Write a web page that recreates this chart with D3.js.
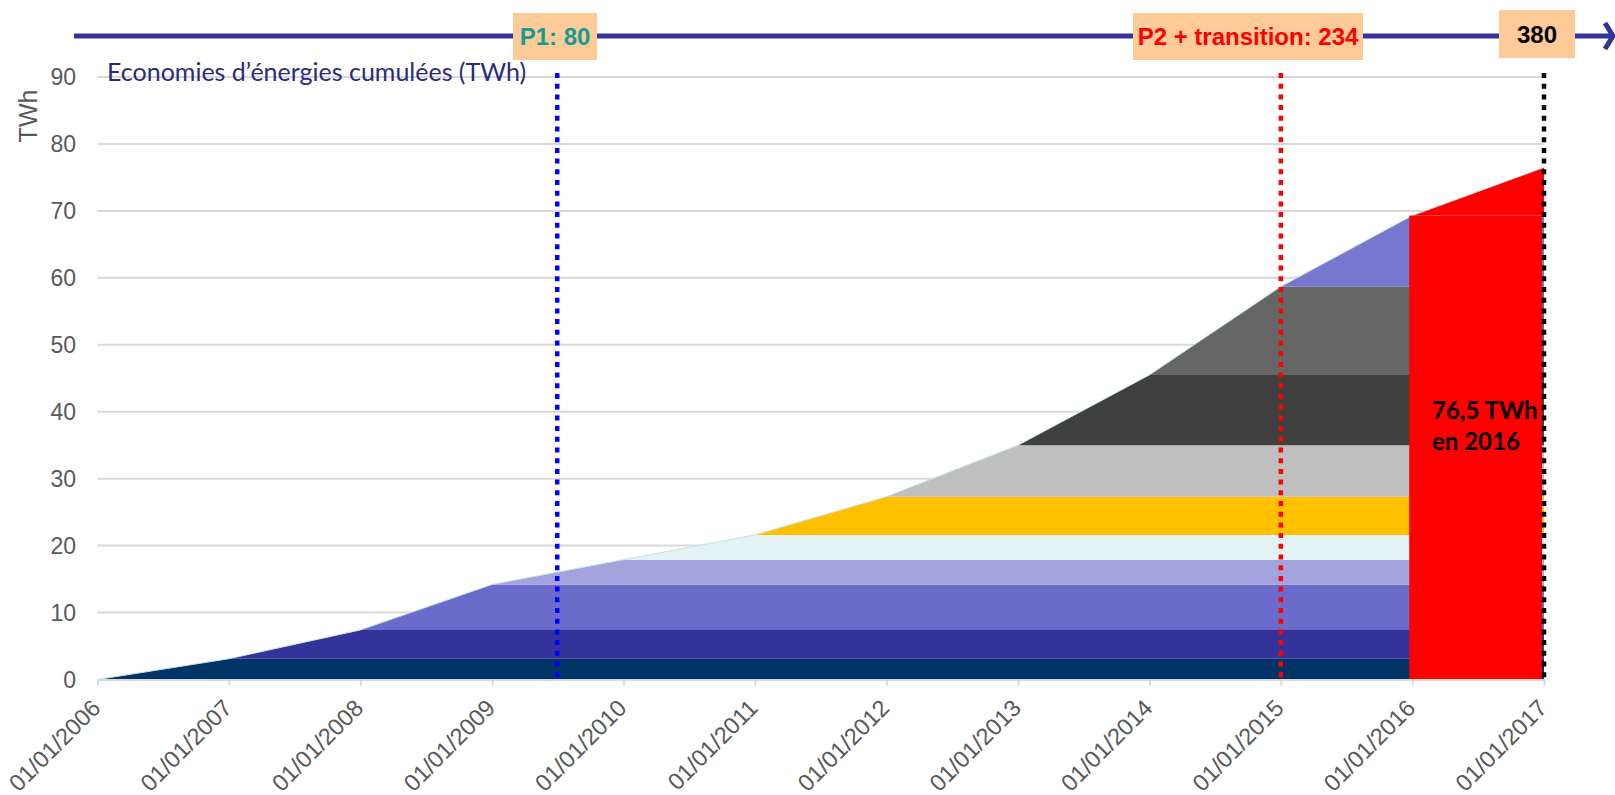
<!DOCTYPE html>
<html>
<head>
<meta charset="utf-8">
<script src="https://cdn.jsdelivr.net/npm/d3@7"></script>
<style>
  body { margin: 0; background: #fff; }
  svg { display: block; }
</style>
</head>
<body>
<div id="chart"></div>
<script>
// dates on the x axis
const dates = ["01/01/2006", "01/01/2007", "01/01/2008", "01/01/2009", "01/01/2010", "01/01/2011",
               "01/01/2012", "01/01/2013", "01/01/2014", "01/01/2015", "01/01/2016", "01/01/2017"];

// savings of each yearly vintage (TWh), one value per date
const v2006 = [0, 3.1, 3.1, 3.1, 3.1, 3.1, 3.1, 3.1, 3.1, 3.1, 3.1, 3.1];
const v2007 = [0, 0, 4.3, 4.3, 4.3, 4.3, 4.3, 4.3, 4.3, 4.3, 4.3, 4.3];
const v2008 = [0, 0, 0, 6.8, 6.8, 6.8, 6.8, 6.8, 6.8, 6.8, 6.8, 6.8];
const v2009 = [0, 0, 0, 0, 3.7, 3.7, 3.7, 3.7, 3.7, 3.7, 3.7, 3.7];
const v2010 = [0, 0, 0, 0, 0, 3.7, 3.7, 3.7, 3.7, 3.7, 3.7, 3.7];
const v2011 = [0, 0, 0, 0, 0, 0, 5.7, 5.7, 5.7, 5.7, 5.7, 5.7];
const v2012 = [0, 0, 0, 0, 0, 0, 0, 7.7, 7.7, 7.7, 7.7, 7.7];
const v2013 = [0, 0, 0, 0, 0, 0, 0, 0, 10.5, 10.5, 10.5, 10.5];
const v2014 = [0, 0, 0, 0, 0, 0, 0, 0, 0, 13.2, 13.2, 13.2];
const v2015 = [0, 0, 0, 0, 0, 0, 0, 0, 0, 0, 10.6, 10.6];
const v2016 = [0, 0, 0, 0, 0, 0, 0, 0, 0, 0, 0, 7.2];

const vintages = [v2006, v2007, v2008, v2009, v2010, v2011, v2012, v2013, v2014, v2015, v2016];

const yTicks = [0, 10, 20, 30, 40, 50, 60, 70, 80, 90];

// periods of the scheme (end dates and cumulated targets)
const periodDates = ["01/07/2009", "01/01/2015", "01/01/2017"];
const periodLabels = ["P1: 80", "P2 + transition: 234", "380"];

const title = "Economies d\u2019énergies cumulées (TWh)";
const totalLabel = ["76,5 TWh", "en 2016"];

const colors = ["#003366", "#333399", "#6b6bcc", "#a3a3dd", "#e3f3f3", "#ffc000",
                "#bfbfbf", "#404040", "#666666", "#7777d0", "#ff0000"];

const W = 1615, H = 795;
const parse = d3.timeParse("%d/%m/%Y");

const svg = d3.select("#chart")
  .append("svg")
    .attr("width", W)
    .attr("height", H);

const x = d3.scaleTime()
  .domain([parse(dates[0]), parse(dates[dates.length - 1])])
  .range([97.5, 1544]);

const y = d3.scaleLinear()
  .domain([0, 90])
  .range([679.5, 77]);

// gridlines
svg.append("g")
  .selectAll("line")
  .data(yTicks.filter(d => d > 0))
  .join("line")
    .attr("x1", x.range()[0])
    .attr("x2", x.range()[1])
    .attr("y1", d => y(d))
    .attr("y2", d => y(d))
    .attr("stroke", "#d9d9d9")
    .attr("stroke-width", 2);

// stacked areas
const table = dates.map((d, i) => {
  const row = {date: parse(d)};
  vintages.forEach((v, k) => row["s" + k] = v[i]);
  return row;
});
const keys = vintages.map((v, k) => "s" + k);
const series = d3.stack().keys(keys)(table);

const area = d3.area()
  .x(d => x(d.data.date))
  .y0(d => y(d[0]))
  .y1(d => y(d[1]));

svg.append("g")
  .selectAll("path")
  .data(series)
  .join("path")
    .attr("fill", (d, i) => colors[i])
    .attr("d", area);

// thin light edge along the top of the stack
const topLayer = series[series.length - 1];
svg.append("path")
  .datum(topLayer)
  .attr("fill", "none")
  .attr("stroke", "#c6e4e4")
  .attr("stroke-width", 1)
  .attr("d", d3.line().x(d => x(d.data.date)).y(d => y(d[1])));

// red block for the last year
const i16 = dates.length - 2;
svg.append("rect")
  .attr("x", x(table[i16].date) - 3)
  .attr("y", y(topLayer[i16][1]))
  .attr("width", x(table[i16 + 1].date) - x(table[i16].date) + 1)
  .attr("height", y(0) - y(topLayer[i16][1]))
  .attr("fill", "#ff0000");

svg.append("text")
  .attr("x", 1432)
  .attr("y", 419)
  .style("font-family", "Lato, 'Noto Sans', sans-serif")
  .style("font-weight", "bold")
  .style("font-size", "24px")
  .attr("fill", "#000")
  .selectAll("tspan")
  .data(totalLabel)
  .join("tspan")
    .attr("x", 1432)
    .attr("dy", (d, i) => i === 0 ? 0 : 31)
    .text(d => d);

// x axis
const xAxis = d3.axisBottom(x)
  .tickValues(dates.map(parse))
  .tickFormat(d3.timeFormat("%d/%m/%Y"))
  .tickSize(6)
  .tickSizeOuter(0);

const gx = svg.append("g")
  .attr("transform", `translate(0, ${y(0)})`)
  .call(xAxis);

gx.select(".domain").attr("stroke", "#d9d9d9").attr("stroke-width", 2);
gx.selectAll(".tick line").attr("stroke", "#d9d9d9").attr("stroke-width", 2);
gx.selectAll(".tick text")
  .attr("fill", "#595959")
  .style("font-family", "'Liberation Sans', Arial, sans-serif")
  .style("font-size", "23.5px")
  .attr("text-anchor", "end")
  .attr("dy", null)
  .attr("y", null)
  .attr("transform", "translate(4, 30) rotate(-45)");

// y axis labels
svg.append("g")
  .selectAll("text")
  .data(yTicks)
  .join("text")
    .attr("x", 76)
    .attr("y", d => y(d))
    .attr("dy", "0.36em")
    .attr("text-anchor", "end")
    .attr("fill", "#595959")
    .style("font-family", "'Liberation Sans', Arial, sans-serif")
    .style("font-size", "23px")
    .text(d => d);

svg.append("text")
  .text("TWh")
  .attr("transform", "translate(28, 116) rotate(-90)")
  .attr("text-anchor", "middle")
  .attr("dy", "0.36em")
  .attr("fill", "#595959")
  .style("font-family", "'Liberation Sans', Arial, sans-serif")
  .style("font-size", "25px");

svg.append("text")
  .text(title)
  .attr("x", 107)
  .attr("y", 81)
  .attr("fill", "#2b2b7c")
  .style("font-family", "Lato, 'Noto Sans', sans-serif")
  .style("font-size", "25px");

// period end lines
const lineColors = ["#0000ff", "#ff0000", "#000000"];
svg.append("g")
  .selectAll("line")
  .data(periodDates)
  .join("line")
    .attr("x1", d => x(parse(d)))
    .attr("x2", d => x(parse(d)))
    .attr("y1", 73)
    .attr("y2", y(0))
    .attr("stroke", (d, i) => lineColors[i])
    .attr("stroke-width", 4.5)
    .attr("stroke-dasharray", "5 5.7");

// timeline arrow on top
svg.append("line")
  .attr("x1", 74)
  .attr("x2", 1611)
  .attr("y1", 36)
  .attr("y2", 36)
  .attr("stroke", "#333399")
  .attr("stroke-width", 5);

svg.append("path")
  .attr("d", "M1605,23 L1613,36 L1605,49")
  .attr("fill", "none")
  .attr("stroke", "#333399")
  .attr("stroke-width", 5);

// period boxes
const boxLayout = [{x0: 513, w: 84, y0: 13, h: 47}, {x0: 1133, w: 230, y0: 13, h: 47}, {x0: 1499, w: 76, y0: 10, h: 48}];
const boxText = ["#169b94", "#ff0000", "#000000"];

const boxes = svg.append("g")
  .selectAll("g")
  .data(periodLabels)
  .join("g");

boxes.append("rect")
  .attr("x", (d, i) => boxLayout[i].x0)
  .attr("y", (d, i) => boxLayout[i].y0)
  .attr("width", (d, i) => boxLayout[i].w)
  .attr("height", (d, i) => boxLayout[i].h)
  .attr("fill", "#fdca98");

boxes.append("text")
  .attr("x", (d, i) => boxLayout[i].x0 + boxLayout[i].w / 2)
  .attr("y", (d, i) => boxLayout[i].y0 + boxLayout[i].h / 2)
  .attr("dy", "0.36em")
  .attr("text-anchor", "middle")
  .attr("fill", (d, i) => boxText[i])
  .style("font-family", "'Liberation Sans', Arial, sans-serif")
  .style("font-weight", "bold")
  .style("font-size", "24px")
  .text(d => d);
</script>
</body>
</html>
